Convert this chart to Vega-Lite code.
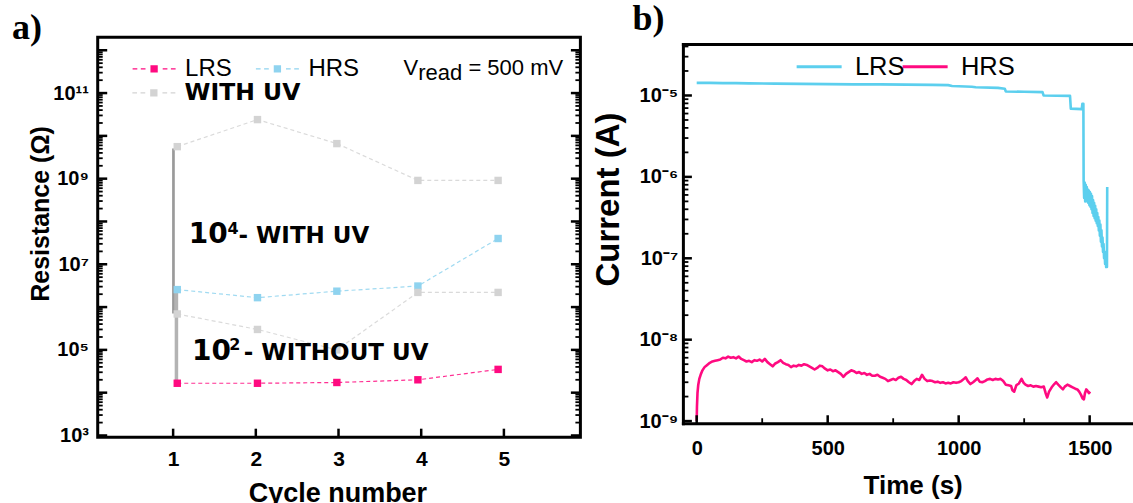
{
  "$schema": "https://vega.github.io/schema/vega-lite/v6.json",
  "padding": {"left": 11.7, "top": 1.2, "right": 0, "bottom": 0},
  "background": "white",
  "config": {
    "view": {"stroke": null},
    "axis": {"grid": false, "ticks": false, "domain": false, "labelFlush": false, "labelOverlap": false, "labelColor": "black", "titleColor": "black", "labelFont": "Liberation Sans", "titleFont": "Liberation Sans", "labelFontWeight": "bold", "titleFontWeight": "bold"}
  },
  "datasets": {
    "cycles": [
      {"cycle": 1.05, "R": 16600, "series": "LRS", "group": "LRS"},
      {"cycle": 2.02, "R": 16600, "series": "LRS", "group": "LRS"},
      {"cycle": 2.98, "R": 17300, "series": "LRS", "group": "LRS"},
      {"cycle": 3.96, "R": 20000, "series": "LRS", "group": "LRS"},
      {"cycle": 4.93, "R": 35000, "series": "LRS", "group": "LRS"},
      {"cycle": 1.05, "R": 2560000, "series": "HRS", "group": "HRS"},
      {"cycle": 2.02, "R": 1660000, "series": "HRS", "group": "HRS"},
      {"cycle": 2.98, "R": 2350000, "series": "HRS", "group": "HRS"},
      {"cycle": 3.96, "R": 3100000, "series": "HRS", "group": "HRS"},
      {"cycle": 4.93, "R": 40000000, "series": "HRS", "group": "HRS"},
      {"cycle": 1.05, "R": 5.6e9, "series": "WITH UV", "group": "UV-HRS"},
      {"cycle": 2.02, "R": 2.4e10, "series": "WITH UV", "group": "UV-HRS"},
      {"cycle": 2.98, "R": 6.6e9, "series": "WITH UV", "group": "UV-HRS"},
      {"cycle": 3.96, "R": 9.1e8, "series": "WITH UV", "group": "UV-HRS"},
      {"cycle": 4.93, "R": 9.1e8, "series": "WITH UV", "group": "UV-HRS"},
      {"cycle": 1.05, "R": 690000, "series": "WITH UV", "group": "UV-LRS"},
      {"cycle": 2.02, "R": 300000, "series": "WITH UV", "group": "UV-LRS"},
      {"cycle": 2.98, "R": 100000, "series": "WITH UV", "group": "UV-LRS"},
      {"cycle": 3.96, "R": 2200000, "series": "WITH UV", "group": "UV-LRS"},
      {"cycle": 4.93, "R": 2200000, "series": "WITH UV", "group": "UV-LRS"}
    ],
    "bars": [
      {"bar": "A", "cycle": 1.004, "top": 5.08e9, "bottom": 708000},
      {"bar": "B", "cycle": 1.04, "top": 2440000, "bottom": 16400}
    ],
    "tA_maj": [{"v": 1e3}, {"v": 1e4}, {"v": 1e5}, {"v": 1e6}, {"v": 1e7}, {"v": 1e8}, {"v": 1e9}, {"v": 1e10}, {"v": 1e11}, {"v": 1e12}],
    "tA_min": [{"v":2e3},{"v":3e3},{"v":4e3},{"v":5e3},{"v":6e3},{"v":7e3},{"v":8e3},{"v":9e3},{"v":2e4},{"v":3e4},{"v":4e4},{"v":5e4},{"v":6e4},{"v":7e4},{"v":8e4},{"v":9e4},{"v":2e5},{"v":3e5},{"v":4e5},{"v":5e5},{"v":6e5},{"v":7e5},{"v":8e5},{"v":9e5},{"v":2e6},{"v":3e6},{"v":4e6},{"v":5e6},{"v":6e6},{"v":7e6},{"v":8e6},{"v":9e6},{"v":2e7},{"v":3e7},{"v":4e7},{"v":5e7},{"v":6e7},{"v":7e7},{"v":8e7},{"v":9e7},{"v":2e8},{"v":3e8},{"v":4e8},{"v":5e8},{"v":6e8},{"v":7e8},{"v":8e8},{"v":9e8},{"v":2e9},{"v":3e9},{"v":4e9},{"v":5e9},{"v":6e9},{"v":7e9},{"v":8e9},{"v":9e9},{"v":2e10},{"v":3e10},{"v":4e10},{"v":5e10},{"v":6e10},{"v":7e10},{"v":8e10},{"v":9e10},{"v":2e11},{"v":3e11},{"v":4e11},{"v":5e11},{"v":6e11},{"v":7e11},{"v":8e11},{"v":9e11}],
    "tA_x": [{"v": 1}, {"v": 2}, {"v": 3}, {"v": 4}, {"v": 5}],
    "tB_maj": [{"v": 1e-9}, {"v": 1e-8}, {"v": 1e-7}, {"v": 1e-6}, {"v": 1e-5}],
    "tB_min": [{"v":2e-9},{"v":3e-9},{"v":4e-9},{"v":5e-9},{"v":6e-9},{"v":7e-9},{"v":8e-9},{"v":9e-9},{"v":2e-8},{"v":3e-8},{"v":4e-8},{"v":5e-8},{"v":6e-8},{"v":7e-8},{"v":8e-8},{"v":9e-8},{"v":2e-7},{"v":3e-7},{"v":4e-7},{"v":5e-7},{"v":6e-7},{"v":7e-7},{"v":8e-7},{"v":9e-7},{"v":2e-6},{"v":3e-6},{"v":4e-6},{"v":5e-6},{"v":6e-6},{"v":7e-6},{"v":8e-6},{"v":9e-6},{"v":2e-5},{"v":3e-5},{"v":4e-5}],
    "tB_x": [{"v": 0}, {"v": 500}, {"v": 1000}, {"v": 1500}],
    "tB_xm": [{"v": 250}, {"v": 750}, {"v": 1250}],
    "current": [
      {"t": 0, "I": 1.43e-5, "series": "LRS"},
      {"t": 50, "I": 1.43e-5, "series": "LRS"},
      {"t": 100, "I": 1.42e-5, "series": "LRS"},
      {"t": 150, "I": 1.42e-5, "series": "LRS"},
      {"t": 200, "I": 1.41e-5, "series": "LRS"},
      {"t": 300, "I": 1.40e-5, "series": "LRS"},
      {"t": 400, "I": 1.39e-5, "series": "LRS"},
      {"t": 500, "I": 1.38e-5, "series": "LRS"},
      {"t": 600, "I": 1.37e-5, "series": "LRS"},
      {"t": 700, "I": 1.37e-5, "series": "LRS"},
      {"t": 800, "I": 1.36e-5, "series": "LRS"},
      {"t": 900, "I": 1.35e-5, "series": "LRS"},
      {"t": 960, "I": 1.34e-5, "series": "LRS"},
      {"t": 975, "I": 1.31e-5, "series": "LRS"},
      {"t": 1050, "I": 1.28e-5, "series": "LRS"},
      {"t": 1065, "I": 1.26e-5, "series": "LRS"},
      {"t": 1150, "I": 1.24e-5, "series": "LRS"},
      {"t": 1176, "I": 1.21e-5, "series": "LRS"},
      {"t": 1180, "I": 1.12e-5, "series": "LRS"},
      {"t": 1250, "I": 1.11e-5, "series": "LRS"},
      {"t": 1320, "I": 1.10e-5, "series": "LRS"},
      {"t": 1324, "I": 1.0e-5, "series": "LRS"},
      {"t": 1425, "I": 9.9e-6, "series": "LRS"},
      {"t": 1428, "I": 6.9e-6, "series": "LRS"},
      {"t": 1470, "I": 6.8e-6, "series": "LRS"},
      {"t": 1472, "I": 7.9e-6, "series": "LRS"},
      {"t": 1476, "I": 7.9e-6, "series": "LRS"},
      {"t": 1477, "I": 9.0e-7, "series": "LRS"},
      {"t": 1479, "I": 5.5e-7, "series": "LRS"},
      {"t": 1481, "I": 8.5e-7, "series": "LRS"},
      {"t": 1483, "I": 5.0e-7, "series": "LRS"},
      {"t": 1485, "I": 8.0e-7, "series": "LRS"},
      {"t": 1487, "I": 5.5e-7, "series": "LRS"},
      {"t": 1489, "I": 7.5e-7, "series": "LRS"},
      {"t": 1491, "I": 5.0e-7, "series": "LRS"},
      {"t": 1493, "I": 7.0e-7, "series": "LRS"},
      {"t": 1495, "I": 4.8e-7, "series": "LRS"},
      {"t": 1497, "I": 6.8e-7, "series": "LRS"},
      {"t": 1499, "I": 4.5e-7, "series": "LRS"},
      {"t": 1501, "I": 6.5e-7, "series": "LRS"},
      {"t": 1503, "I": 4.3e-7, "series": "LRS"},
      {"t": 1505, "I": 6.2e-7, "series": "LRS"},
      {"t": 1507, "I": 4.0e-7, "series": "LRS"},
      {"t": 1509, "I": 5.8e-7, "series": "LRS"},
      {"t": 1511, "I": 3.6e-7, "series": "LRS"},
      {"t": 1513, "I": 5.2e-7, "series": "LRS"},
      {"t": 1515, "I": 3.3e-7, "series": "LRS"},
      {"t": 1517, "I": 4.8e-7, "series": "LRS"},
      {"t": 1519, "I": 3.1e-7, "series": "LRS"},
      {"t": 1521, "I": 4.4e-7, "series": "LRS"},
      {"t": 1523, "I": 2.9e-7, "series": "LRS"},
      {"t": 1525, "I": 4.0e-7, "series": "LRS"},
      {"t": 1527, "I": 2.7e-7, "series": "LRS"},
      {"t": 1529, "I": 3.6e-7, "series": "LRS"},
      {"t": 1531, "I": 2.5e-7, "series": "LRS"},
      {"t": 1533, "I": 3.2e-7, "series": "LRS"},
      {"t": 1535, "I": 2.2e-7, "series": "LRS"},
      {"t": 1537, "I": 2.9e-7, "series": "LRS"},
      {"t": 1539, "I": 1.9e-7, "series": "LRS"},
      {"t": 1541, "I": 2.6e-7, "series": "LRS"},
      {"t": 1543, "I": 1.6e-7, "series": "LRS"},
      {"t": 1545, "I": 2.2e-7, "series": "LRS"},
      {"t": 1547, "I": 1.4e-7, "series": "LRS"},
      {"t": 1549, "I": 1.8e-7, "series": "LRS"},
      {"t": 1551, "I": 1.2e-7, "series": "LRS"},
      {"t": 1553, "I": 1.5e-7, "series": "LRS"},
      {"t": 1555, "I": 1.0e-7, "series": "LRS"},
      {"t": 1557, "I": 1.2e-7, "series": "LRS"},
      {"t": 1559, "I": 8.5e-8, "series": "LRS"},
      {"t": 1561, "I": 1.0e-7, "series": "LRS"},
      {"t": 1563, "I": 7.8e-8, "series": "LRS"},
      {"t": 1566, "I": 7.8e-8, "series": "LRS"},
      {"t": 1567, "I": 7.5e-7, "series": "LRS"},
      {"t": 0, "I": 1.0e-9, "series": "HRS"},
      {"t": 1, "I": 1.5e-9, "series": "HRS"},
      {"t": 3, "I": 2.2e-9, "series": "HRS"},
      {"t": 6, "I": 2.8e-9, "series": "HRS"},
      {"t": 10, "I": 3.3e-9, "series": "HRS"},
      {"t": 15, "I": 3.7e-9, "series": "HRS"},
      {"t": 22, "I": 4.2e-9, "series": "HRS"},
      {"t": 30, "I": 4.6e-9, "series": "HRS"},
      {"t": 40, "I": 4.9e-9, "series": "HRS"},
      {"t": 50, "I": 5.2e-9, "series": "HRS"},
      {"t": 60, "I": 5.4e-9, "series": "HRS"},
      {"t": 70, "I": 5.5e-9, "series": "HRS"},
      {"t": 80, "I": 5.6e-9, "series": "HRS"},
      {"t": 90, "I": 5.7e-9, "series": "HRS"},
      {"t": 100, "I": 6.0e-9, "series": "HRS"},
      {"t": 110, "I": 5.9e-9, "series": "HRS"},
      {"t": 120, "I": 6.2e-9, "series": "HRS"},
      {"t": 130, "I": 6.0e-9, "series": "HRS"},
      {"t": 140, "I": 6.1e-9, "series": "HRS"},
      {"t": 150, "I": 5.9e-9, "series": "HRS"},
      {"t": 160, "I": 6.2e-9, "series": "HRS"},
      {"t": 170, "I": 5.8e-9, "series": "HRS"},
      {"t": 180, "I": 5.6e-9, "series": "HRS"},
      {"t": 190, "I": 5.4e-9, "series": "HRS"},
      {"t": 200, "I": 5.5e-9, "series": "HRS"},
      {"t": 210, "I": 5.3e-9, "series": "HRS"},
      {"t": 220, "I": 5.6e-9, "series": "HRS"},
      {"t": 230, "I": 5.5e-9, "series": "HRS"},
      {"t": 240, "I": 5.7e-9, "series": "HRS"},
      {"t": 250, "I": 5.4e-9, "series": "HRS"},
      {"t": 260, "I": 5.8e-9, "series": "HRS"},
      {"t": 270, "I": 5.3e-9, "series": "HRS"},
      {"t": 280, "I": 5.0e-9, "series": "HRS"},
      {"t": 290, "I": 4.7e-9, "series": "HRS"},
      {"t": 300, "I": 5.1e-9, "series": "HRS"},
      {"t": 310, "I": 5.3e-9, "series": "HRS"},
      {"t": 320, "I": 5.6e-9, "series": "HRS"},
      {"t": 330, "I": 5.2e-9, "series": "HRS"},
      {"t": 340, "I": 5.0e-9, "series": "HRS"},
      {"t": 350, "I": 4.9e-9, "series": "HRS"},
      {"t": 360, "I": 4.6e-9, "series": "HRS"},
      {"t": 370, "I": 4.8e-9, "series": "HRS"},
      {"t": 380, "I": 4.7e-9, "series": "HRS"},
      {"t": 390, "I": 4.9e-9, "series": "HRS"},
      {"t": 400, "I": 4.8e-9, "series": "HRS"},
      {"t": 410, "I": 5.0e-9, "series": "HRS"},
      {"t": 420, "I": 4.9e-9, "series": "HRS"},
      {"t": 430, "I": 4.7e-9, "series": "HRS"},
      {"t": 440, "I": 4.5e-9, "series": "HRS"},
      {"t": 450, "I": 4.3e-9, "series": "HRS"},
      {"t": 460, "I": 4.5e-9, "series": "HRS"},
      {"t": 470, "I": 4.8e-9, "series": "HRS"},
      {"t": 480, "I": 4.7e-9, "series": "HRS"},
      {"t": 490, "I": 4.4e-9, "series": "HRS"},
      {"t": 500, "I": 4.2e-9, "series": "HRS"},
      {"t": 510, "I": 4.3e-9, "series": "HRS"},
      {"t": 520, "I": 4.1e-9, "series": "HRS"},
      {"t": 530, "I": 4.2e-9, "series": "HRS"},
      {"t": 540, "I": 4.0e-9, "series": "HRS"},
      {"t": 550, "I": 3.8e-9, "series": "HRS"},
      {"t": 560, "I": 3.5e-9, "series": "HRS"},
      {"t": 570, "I": 3.8e-9, "series": "HRS"},
      {"t": 580, "I": 4.0e-9, "series": "HRS"},
      {"t": 590, "I": 4.2e-9, "series": "HRS"},
      {"t": 600, "I": 4.1e-9, "series": "HRS"},
      {"t": 610, "I": 3.9e-9, "series": "HRS"},
      {"t": 620, "I": 4.0e-9, "series": "HRS"},
      {"t": 630, "I": 3.8e-9, "series": "HRS"},
      {"t": 640, "I": 3.9e-9, "series": "HRS"},
      {"t": 650, "I": 3.7e-9, "series": "HRS"},
      {"t": 660, "I": 3.8e-9, "series": "HRS"},
      {"t": 670, "I": 3.6e-9, "series": "HRS"},
      {"t": 680, "I": 3.6e-9, "series": "HRS"},
      {"t": 690, "I": 3.7e-9, "series": "HRS"},
      {"t": 700, "I": 3.5e-9, "series": "HRS"},
      {"t": 710, "I": 3.4e-9, "series": "HRS"},
      {"t": 720, "I": 3.3e-9, "series": "HRS"},
      {"t": 730, "I": 3.1e-9, "series": "HRS"},
      {"t": 740, "I": 3.2e-9, "series": "HRS"},
      {"t": 750, "I": 3.3e-9, "series": "HRS"},
      {"t": 760, "I": 3.2e-9, "series": "HRS"},
      {"t": 770, "I": 3.4e-9, "series": "HRS"},
      {"t": 780, "I": 3.5e-9, "series": "HRS"},
      {"t": 790, "I": 3.3e-9, "series": "HRS"},
      {"t": 800, "I": 3.2e-9, "series": "HRS"},
      {"t": 810, "I": 3.0e-9, "series": "HRS"},
      {"t": 820, "I": 2.85e-9, "series": "HRS"},
      {"t": 830, "I": 3.1e-9, "series": "HRS"},
      {"t": 840, "I": 3.3e-9, "series": "HRS"},
      {"t": 850, "I": 3.2e-9, "series": "HRS"},
      {"t": 860, "I": 3.7e-9, "series": "HRS"},
      {"t": 870, "I": 3.3e-9, "series": "HRS"},
      {"t": 880, "I": 3.1e-9, "series": "HRS"},
      {"t": 890, "I": 3.15e-9, "series": "HRS"},
      {"t": 900, "I": 3.1e-9, "series": "HRS"},
      {"t": 910, "I": 3.0e-9, "series": "HRS"},
      {"t": 920, "I": 3.05e-9, "series": "HRS"},
      {"t": 930, "I": 2.95e-9, "series": "HRS"},
      {"t": 940, "I": 3.0e-9, "series": "HRS"},
      {"t": 950, "I": 2.9e-9, "series": "HRS"},
      {"t": 960, "I": 2.95e-9, "series": "HRS"},
      {"t": 970, "I": 2.9e-9, "series": "HRS"},
      {"t": 980, "I": 3.0e-9, "series": "HRS"},
      {"t": 990, "I": 2.95e-9, "series": "HRS"},
      {"t": 1000, "I": 3.0e-9, "series": "HRS"},
      {"t": 1010, "I": 3.1e-9, "series": "HRS"},
      {"t": 1020, "I": 3.3e-9, "series": "HRS"},
      {"t": 1027, "I": 3.45e-9, "series": "HRS"},
      {"t": 1035, "I": 3.1e-9, "series": "HRS"},
      {"t": 1045, "I": 2.85e-9, "series": "HRS"},
      {"t": 1055, "I": 3.0e-9, "series": "HRS"},
      {"t": 1065, "I": 3.2e-9, "series": "HRS"},
      {"t": 1072, "I": 3.35e-9, "series": "HRS"},
      {"t": 1080, "I": 3.05e-9, "series": "HRS"},
      {"t": 1090, "I": 3.0e-9, "series": "HRS"},
      {"t": 1100, "I": 3.1e-9, "series": "HRS"},
      {"t": 1110, "I": 3.25e-9, "series": "HRS"},
      {"t": 1120, "I": 3.3e-9, "series": "HRS"},
      {"t": 1130, "I": 3.2e-9, "series": "HRS"},
      {"t": 1140, "I": 3.3e-9, "series": "HRS"},
      {"t": 1150, "I": 3.25e-9, "series": "HRS"},
      {"t": 1160, "I": 3.3e-9, "series": "HRS"},
      {"t": 1170, "I": 3.1e-9, "series": "HRS"},
      {"t": 1180, "I": 2.8e-9, "series": "HRS"},
      {"t": 1190, "I": 2.75e-9, "series": "HRS"},
      {"t": 1200, "I": 2.7e-9, "series": "HRS"},
      {"t": 1205, "I": 2.4e-9, "series": "HRS"},
      {"t": 1212, "I": 2.3e-9, "series": "HRS"},
      {"t": 1220, "I": 2.75e-9, "series": "HRS"},
      {"t": 1230, "I": 2.9e-9, "series": "HRS"},
      {"t": 1240, "I": 3.3e-9, "series": "HRS"},
      {"t": 1248, "I": 2.95e-9, "series": "HRS"},
      {"t": 1255, "I": 2.8e-9, "series": "HRS"},
      {"t": 1265, "I": 2.7e-9, "series": "HRS"},
      {"t": 1275, "I": 2.75e-9, "series": "HRS"},
      {"t": 1285, "I": 2.65e-9, "series": "HRS"},
      {"t": 1295, "I": 2.7e-9, "series": "HRS"},
      {"t": 1305, "I": 2.65e-9, "series": "HRS"},
      {"t": 1315, "I": 2.6e-9, "series": "HRS"},
      {"t": 1325, "I": 2.65e-9, "series": "HRS"},
      {"t": 1332, "I": 2.2e-9, "series": "HRS"},
      {"t": 1338, "I": 1.95e-9, "series": "HRS"},
      {"t": 1345, "I": 2.3e-9, "series": "HRS"},
      {"t": 1355, "I": 2.6e-9, "series": "HRS"},
      {"t": 1365, "I": 2.85e-9, "series": "HRS"},
      {"t": 1372, "I": 3.0e-9, "series": "HRS"},
      {"t": 1380, "I": 2.8e-9, "series": "HRS"},
      {"t": 1390, "I": 2.6e-9, "series": "HRS"},
      {"t": 1398, "I": 2.45e-9, "series": "HRS"},
      {"t": 1405, "I": 2.65e-9, "series": "HRS"},
      {"t": 1415, "I": 2.8e-9, "series": "HRS"},
      {"t": 1425, "I": 2.7e-9, "series": "HRS"},
      {"t": 1435, "I": 2.6e-9, "series": "HRS"},
      {"t": 1445, "I": 2.5e-9, "series": "HRS"},
      {"t": 1453, "I": 2.45e-9, "series": "HRS"},
      {"t": 1460, "I": 2.3e-9, "series": "HRS"},
      {"t": 1467, "I": 2.1e-9, "series": "HRS"},
      {"t": 1473, "I": 1.9e-9, "series": "HRS"},
      {"t": 1478, "I": 1.85e-9, "series": "HRS"},
      {"t": 1482, "I": 2.2e-9, "series": "HRS"},
      {"t": 1487, "I": 2.45e-9, "series": "HRS"},
      {"t": 1492, "I": 2.35e-9, "series": "HRS"},
      {"t": 1497, "I": 2.2e-9, "series": "HRS"},
      {"t": 1502, "I": 2.3e-9, "series": "HRS"}
    ]
  },
  "bounds": "flush",
  "spacing": 102.7,
  "resolve": {"scale": {"color": "independent", "x": "independent", "y": "independent"}, "legend": {"color": "independent"}},
  "hconcat": [
    {
      "width": 482.7,
      "height": 400,
      "view": {"stroke": null},
      "resolve": {"axis": {"x": "independent", "y": "independent"}, "legend": {"color": "independent", "fill": "independent"}},
      "layer": [
        {
          "data": {"name": "bars"},
          "transform": [{"filter": "datum.bar == 'A'"}],
          "mark": {"type": "rule", "color": "#9a9a9a", "strokeWidth": 2.7},
          "encoding": {
            "x": {"field": "cycle", "type": "quantitative", "scale": {"domain": [0.088, 5.925], "nice": false, "zero": false},
              "axis": {"orient": "bottom", "values": [1, 2, 3, 4, 5], "format": "d", "labelFontSize": 21, "labelPadding": 11.3, "title": "Cycle number", "titleFontSize": 27, "titleX": 239.7, "titleY": 64.3, "titleBaseline": "alphabetic", "titleAlign": "center"}},
            "y": {"field": "top", "type": "quantitative", "scale": {"type": "log", "domain": [912, 2.02e12], "nice": false},
              "axis": {"orient": "left", "values": [1e3, 1e5, 1e7, 1e9, 1e11], "labelExpr": "['','','','10³','','10⁵','','10⁷','','10⁹','','10¹¹',''][round(log(datum.value)/LN10)]", "labelFontSize": 20, "labelPadding": 9.3, "title": "Resistance (Ω)", "titleFontSize": 25, "titleX": -57.3, "titleY": 176.3, "titleBaseline": "middle", "titleAlign": "center"}},
            "y2": {"field": "bottom"}
          }
        },
        {
          "data": {"name": "bars"},
          "transform": [{"filter": "datum.bar == 'B'"}],
          "mark": {"type": "rule", "color": "#ababab", "strokeWidth": 3.5, "opacity": 0.9},
          "encoding": {
            "x": {"field": "cycle", "type": "quantitative", "scale": {"domain": [0.088, 5.925], "nice": false, "zero": false}, "axis": null},
            "y": {"field": "top", "type": "quantitative", "scale": {"type": "log", "domain": [912, 2.02e12], "nice": false}, "axis": null},
            "y2": {"field": "bottom"}
          }
        },
        {
          "data": {"values": [{}]},
          "mark": {"type": "rect", "fillOpacity": 0, "stroke": "black", "strokeWidth": 3},
          "encoding": {
            "x": {"datum": 0.088, "type": "quantitative", "scale": {"domain": [0.088, 5.925], "nice": false, "zero": false}, "axis": null},
            "x2": {"datum": 5.925},
            "y": {"datum": 912, "type": "quantitative", "scale": {"type": "log", "domain": [912, 2.02e12], "nice": false}, "axis": null},
            "y2": {"datum": 2.02e12}
          }
        },
        {
          "data": {"name": "tA_maj"},
          "mark": {"type": "tick", "orient": "horizontal", "size": 9.5, "thickness": 2.5, "color": "black", "opacity": 1, "xOffset": 4.75},
          "encoding": {
            "x": {"datum": 0.088, "type": "quantitative", "scale": {"domain": [0.088, 5.925], "nice": false, "zero": false}, "axis": null},
            "y": {"field": "v", "type": "quantitative", "scale": {"type": "log", "domain": [912, 2.02e12], "nice": false}, "axis": null}
          }
        },
        {
          "data": {"name": "tA_min"},
          "mark": {"type": "tick", "orient": "horizontal", "size": 5, "thickness": 1.8, "color": "black", "opacity": 1, "xOffset": 2.5},
          "encoding": {
            "x": {"datum": 0.088, "type": "quantitative", "scale": {"domain": [0.088, 5.925], "nice": false, "zero": false}, "axis": null},
            "y": {"field": "v", "type": "quantitative", "scale": {"type": "log", "domain": [912, 2.02e12], "nice": false}, "axis": null}
          }
        },
        {
          "data": {"name": "tA_maj"},
          "mark": {"type": "tick", "orient": "horizontal", "size": 9.5, "thickness": 2.5, "color": "black", "opacity": 1, "xOffset": -4.75},
          "encoding": {
            "x": {"datum": 5.925, "type": "quantitative", "scale": {"domain": [0.088, 5.925], "nice": false, "zero": false}, "axis": null},
            "y": {"field": "v", "type": "quantitative", "scale": {"type": "log", "domain": [912, 2.02e12], "nice": false}, "axis": null}
          }
        },
        {
          "data": {"name": "tA_min"},
          "mark": {"type": "tick", "orient": "horizontal", "size": 5, "thickness": 1.8, "color": "black", "opacity": 1, "xOffset": -2.5},
          "encoding": {
            "x": {"datum": 5.925, "type": "quantitative", "scale": {"domain": [0.088, 5.925], "nice": false, "zero": false}, "axis": null},
            "y": {"field": "v", "type": "quantitative", "scale": {"type": "log", "domain": [912, 2.02e12], "nice": false}, "axis": null}
          }
        },
        {
          "data": {"name": "tA_x"},
          "mark": {"type": "tick", "orient": "vertical", "size": 8.5, "thickness": 2.5, "color": "black", "opacity": 1, "yOffset": -4.25},
          "encoding": {
            "x": {"field": "v", "type": "quantitative", "scale": {"domain": [0.088, 5.925], "nice": false, "zero": false}, "axis": null},
            "y": {"datum": 912, "type": "quantitative", "scale": {"type": "log", "domain": [912, 2.02e12], "nice": false}, "axis": null}
          }
        },
        {
          "data": {"name": "cycles"},
          "mark": {"type": "line", "strokeDash": [4, 3], "strokeWidth": 1.2, "opacity": 0.85},
          "encoding": {
            "x": {"field": "cycle", "type": "quantitative", "scale": {"domain": [0.088, 5.925], "nice": false, "zero": false}, "axis": null},
            "y": {"field": "R", "type": "quantitative", "scale": {"type": "log", "domain": [912, 2.02e12], "nice": false}, "axis": null},
            "color": {"field": "series", "type": "nominal", "scale": {"domain": ["LRS", "HRS", "WITH UV"], "range": ["#ff0a80", "#8fd3ef", "#d3d3d3"]}, "legend": null},
            "detail": {"field": "group"}
          }
        },
        {
          "data": {"name": "cycles"},
          "transform": [{"filter": "datum.series != 'WITH UV'"}],
          "mark": {"type": "point", "shape": "square", "filled": true, "size": 55, "opacity": 1},
          "encoding": {
            "x": {"field": "cycle", "type": "quantitative", "scale": {"domain": [0.088, 5.925], "nice": false, "zero": false}, "axis": null},
            "y": {"field": "R", "type": "quantitative", "scale": {"type": "log", "domain": [912, 2.02e12], "nice": false}, "axis": null},
            "color": {"field": "series", "type": "nominal", "scale": {"domain": ["LRS", "HRS", "WITH UV"], "range": ["#ff0a80", "#8fd3ef", "#d3d3d3"]},
              "legend": {"values": ["LRS", "HRS"], "orient": "none", "legendX": 44.4, "legendY": 19.6, "direction": "horizontal", "title": null, "padding": 0,
                "symbolType": "M-5.375,-0.1625H-4.2V0.1625H-5.375Z M-3.325,-0.1625H-2.15V0.1625H-3.325Z M-0.9125,-0.9125H0.9125V0.9125H-0.9125Z M2.15,-0.1625H3.325V0.1625H2.15Z M4.2,-0.1625H5.375V0.1625H4.2Z",
                "symbolSize": 64, "symbolStrokeWidth": 0, "symbolOpacity": 1, "labelFont": "Liberation Sans", "labelFontSize": 24, "labelFontWeight": "normal", "labelColor": "black", "labelOffset": 19, "columnPadding": 23.3}}
          }
        },
        {
          "data": {"name": "cycles"},
          "transform": [{"filter": "datum.series == 'WITH UV'"}],
          "mark": {"type": "point", "shape": "square", "filled": true, "size": 55, "opacity": 1},
          "encoding": {
            "x": {"field": "cycle", "type": "quantitative", "scale": {"domain": [0.088, 5.925], "nice": false, "zero": false}, "axis": null},
            "y": {"field": "R", "type": "quantitative", "scale": {"type": "log", "domain": [912, 2.02e12], "nice": false}, "axis": null},
            "fill": {"field": "series", "type": "nominal", "scale": {"domain": ["WITH UV"], "range": ["#d3d3d3"]},
              "legend": {"orient": "none", "legendX": 44.4, "legendY": 44, "direction": "horizontal", "title": null, "padding": 0,
                "symbolType": "M-5.375,-0.1625H-4.2V0.1625H-5.375Z M-3.325,-0.1625H-2.15V0.1625H-3.325Z M-0.9125,-0.9125H0.9125V0.9125H-0.9125Z M2.15,-0.1625H3.325V0.1625H2.15Z M4.2,-0.1625H5.375V0.1625H4.2Z",
                "symbolSize": 64, "symbolStrokeWidth": 0, "symbolOpacity": 1, "labelFont": "DejaVu Sans", "labelFontSize": 23.5, "labelFontWeight": "bold", "labelColor": "black", "labelOffset": 19}}
          }
        },
        {
          "data": {"values": [{}]},
          "mark": {"type": "text", "text": "a)", "font": "Liberation Serif", "fontWeight": "bold", "fontSize": 36, "align": "left", "baseline": "alphabetic", "color": "black"},
          "encoding": {
            "x": {"datum": -0.947, "type": "quantitative", "scale": {"domain": [0.088, 5.925], "nice": false, "zero": false}, "axis": null},
            "y": {"datum": 1.86e12, "type": "quantitative", "scale": {"type": "log", "domain": [912, 2.02e12], "nice": false}, "axis": null}
          }
        },
        {
          "data": {"values": [{}]},
          "mark": {"type": "text", "text": "V", "font": "Liberation Sans", "fontSize": 22, "align": "left", "baseline": "alphabetic", "color": "black"},
          "encoding": {
            "x": {"datum": 3.785, "type": "quantitative", "scale": {"domain": [0.088, 5.925], "nice": false, "zero": false}, "axis": null},
            "y": {"datum": 2.58e11, "type": "quantitative", "scale": {"type": "log", "domain": [912, 2.02e12], "nice": false}, "axis": null}
          }
        },
        {
          "data": {"values": [{}]},
          "mark": {"type": "text", "text": "read", "font": "Liberation Sans", "fontSize": 22, "align": "left", "baseline": "alphabetic", "color": "black"},
          "encoding": {
            "x": {"datum": 3.963, "type": "quantitative", "scale": {"domain": [0.088, 5.925], "nice": false, "zero": false}, "axis": null},
            "y": {"datum": 1.97e11, "type": "quantitative", "scale": {"type": "log", "domain": [912, 2.02e12], "nice": false}, "axis": null}
          }
        },
        {
          "data": {"values": [{}]},
          "mark": {"type": "text", "text": "= 500 mV", "font": "Liberation Sans", "fontSize": 22, "align": "left", "baseline": "alphabetic", "color": "black"},
          "encoding": {
            "x": {"datum": 4.571, "type": "quantitative", "scale": {"domain": [0.088, 5.925], "nice": false, "zero": false}, "axis": null},
            "y": {"datum": 2.58e11, "type": "quantitative", "scale": {"type": "log", "domain": [912, 2.02e12], "nice": false}, "axis": null}
          }
        },
        {
          "data": {"values": [{}]},
          "mark": {"type": "text", "text": "10", "font": "DejaVu Sans", "fontWeight": "bold", "fontSize": 28, "align": "left", "baseline": "alphabetic", "color": "black"},
          "encoding": {
            "x": {"datum": 1.1886, "type": "quantitative", "scale": {"domain": [0.088, 5.925], "nice": false, "zero": false}, "axis": null},
            "y": {"datum": 3.11e7, "type": "quantitative", "scale": {"type": "log", "domain": [912, 2.02e12], "nice": false}, "axis": null}
          }
        },
        {
          "data": {"values": [{}]},
          "mark": {"type": "text", "text": "4", "font": "DejaVu Sans", "fontWeight": "bold", "fontSize": 16, "align": "left", "baseline": "alphabetic", "color": "black"},
          "encoding": {
            "x": {"datum": 1.657, "type": "quantitative", "scale": {"domain": [0.088, 5.925], "nice": false, "zero": false}, "axis": null},
            "y": {"datum": 5.16e7, "type": "quantitative", "scale": {"type": "log", "domain": [912, 2.02e12], "nice": false}, "axis": null}
          }
        },
        {
          "data": {"values": [{}]},
          "mark": {"type": "text", "text": "- WITH UV", "font": "DejaVu Sans", "fontWeight": "bold", "fontSize": 23, "align": "left", "baseline": "alphabetic", "color": "black"},
          "encoding": {
            "x": {"datum": 1.79, "type": "quantitative", "scale": {"domain": [0.088, 5.925], "nice": false, "zero": false}, "axis": null},
            "y": {"datum": 3.11e7, "type": "quantitative", "scale": {"type": "log", "domain": [912, 2.02e12], "nice": false}, "axis": null}
          }
        },
        {
          "data": {"values": [{}]},
          "mark": {"type": "text", "text": "10", "font": "DejaVu Sans", "fontWeight": "bold", "fontSize": 28, "align": "left", "baseline": "alphabetic", "color": "black"},
          "encoding": {
            "x": {"datum": 1.2297, "type": "quantitative", "scale": {"domain": [0.088, 5.925], "nice": false, "zero": false}, "axis": null},
            "y": {"datum": 58700, "type": "quantitative", "scale": {"type": "log", "domain": [912, 2.02e12], "nice": false}, "axis": null}
          }
        },
        {
          "data": {"values": [{}]},
          "mark": {"type": "text", "text": "2", "font": "DejaVu Sans", "fontWeight": "bold", "fontSize": 16, "align": "left", "baseline": "alphabetic", "color": "black"},
          "encoding": {
            "x": {"datum": 1.68, "type": "quantitative", "scale": {"domain": [0.088, 5.925], "nice": false, "zero": false}, "axis": null},
            "y": {"datum": 96800, "type": "quantitative", "scale": {"type": "log", "domain": [912, 2.02e12], "nice": false}, "axis": null}
          }
        },
        {
          "data": {"values": [{}]},
          "mark": {"type": "text", "text": "- WITHOUT UV", "font": "DejaVu Sans", "fontWeight": "bold", "fontSize": 23, "align": "left", "baseline": "alphabetic", "color": "black"},
          "encoding": {
            "x": {"datum": 1.854, "type": "quantitative", "scale": {"domain": [0.088, 5.925], "nice": false, "zero": false}, "axis": null},
            "y": {"datum": 58700, "type": "quantitative", "scale": {"type": "log", "domain": [912, 2.02e12], "nice": false}, "axis": null}
          }
        }
      ]
    },
    {
      "width": 450.3,
      "height": 400,
      "view": {"stroke": null},
      "resolve": {"axis": {"x": "independent", "y": "independent"}},
      "layer": [
        {
          "data": {"name": "current"},
          "mark": {"type": "line", "strokeWidth": 2.6, "strokeJoin": "round"},
          "encoding": {
            "x": {"field": "t", "type": "quantitative", "scale": {"domain": [-50.8, 1668], "nice": false, "zero": false},
              "axis": {"orient": "bottom", "offset": -13.4, "values": [0, 500, 1000, 1500], "format": "d", "labelFontSize": 20, "labelPadding": 14.7, "title": "Time (s)", "titleFontSize": 26, "titleX": 229.3, "titleY": 69.4, "titleBaseline": "alphabetic", "titleAlign": "center"}},
            "y": {"field": "I", "type": "quantitative", "scale": {"type": "log", "domain": [6.34e-10, 5.2e-5], "nice": false},
              "axis": {"orient": "left", "values": [1e-9, 1e-8, 1e-7, 1e-6, 1e-5], "labelExpr": "['10⁻⁹','10⁻⁸','10⁻⁷','10⁻⁶','10⁻⁵'][round(log(datum.value)/LN10)+9]", "labelFontSize": 20, "labelPadding": 5.7, "title": "Current (A)", "titleFontSize": 33, "titleX": -75.2, "titleY": 161.8, "titleBaseline": "middle", "titleAlign": "center"}},
            "color": {"field": "series", "type": "nominal", "scale": {"domain": ["LRS", "HRS"], "range": ["#5ccfee", "#ff0a80"]},
              "legend": {"orient": "none", "legendX": 123, "legendY": 16.5, "direction": "horizontal", "title": null, "padding": 0, "symbolType": "M-11.25,0H11.25", "symbolSize": 16, "symbolStrokeWidth": 3, "labelFont": "Liberation Sans", "labelFontSize": 25.5, "labelFontWeight": "normal", "labelColor": "black", "labelOffset": 23, "columnPadding": -9}},
            "detail": {"field": "series"}
          }
        },
        {
          "data": {"values": [{}]},
          "mark": {"type": "rect", "color": "black", "opacity": 1},
          "encoding": {
            "x": {"datum": -56.5, "type": "quantitative", "scale": {"domain": [-50.8, 1668], "nice": false, "zero": false}, "axis": null},
            "x2": {"datum": -45.1},
            "y": {"datum": 8.89e-10, "type": "quantitative", "scale": {"type": "log", "domain": [6.34e-10, 5.2e-5], "nice": false}, "axis": null},
            "y2": {"datum": 4.42e-5}
          }
        },
        {
          "data": {"values": [{}]},
          "mark": {"type": "rect", "color": "black", "opacity": 1},
          "encoding": {
            "x": {"datum": -56.5, "type": "quantitative", "scale": {"domain": [-50.8, 1668], "nice": false, "zero": false}, "axis": null},
            "x2": {"datum": 1668},
            "y": {"datum": 4.06e-5, "type": "quantitative", "scale": {"type": "log", "domain": [6.34e-10, 5.2e-5], "nice": false}, "axis": null},
            "y2": {"datum": 4.42e-5}
          }
        },
        {
          "data": {"values": [{}]},
          "mark": {"type": "rect", "color": "black", "opacity": 1},
          "encoding": {
            "x": {"datum": -56.5, "type": "quantitative", "scale": {"domain": [-50.8, 1668], "nice": false, "zero": false}, "axis": null},
            "x2": {"datum": 1668},
            "y": {"datum": 8.89e-10, "type": "quantitative", "scale": {"type": "log", "domain": [6.34e-10, 5.2e-5], "nice": false}, "axis": null},
            "y2": {"datum": 9.66e-10}
          }
        },
        {
          "data": {"name": "tB_maj"},
          "mark": {"type": "tick", "orient": "horizontal", "size": 8.5, "thickness": 2.5, "color": "black", "opacity": 1, "xOffset": 4.25},
          "encoding": {
            "x": {"datum": -50.8, "type": "quantitative", "scale": {"domain": [-50.8, 1668], "nice": false, "zero": false}, "axis": null},
            "y": {"field": "v", "type": "quantitative", "scale": {"type": "log", "domain": [6.34e-10, 5.2e-5], "nice": false}, "axis": null}
          }
        },
        {
          "data": {"name": "tB_min"},
          "mark": {"type": "tick", "orient": "horizontal", "size": 5, "thickness": 1.8, "color": "black", "opacity": 1, "xOffset": 2.5},
          "encoding": {
            "x": {"datum": -50.8, "type": "quantitative", "scale": {"domain": [-50.8, 1668], "nice": false, "zero": false}, "axis": null},
            "y": {"field": "v", "type": "quantitative", "scale": {"type": "log", "domain": [6.34e-10, 5.2e-5], "nice": false}, "axis": null}
          }
        },
        {
          "data": {"name": "tB_x"},
          "mark": {"type": "tick", "orient": "vertical", "size": 8.5, "thickness": 2.5, "color": "black", "opacity": 1, "yOffset": -4.25},
          "encoding": {
            "x": {"field": "v", "type": "quantitative", "scale": {"domain": [-50.8, 1668], "nice": false, "zero": false}, "axis": null},
            "y": {"datum": 9.27e-10, "type": "quantitative", "scale": {"type": "log", "domain": [6.34e-10, 5.2e-5], "nice": false}, "axis": null}
          }
        },
        {
          "data": {"name": "tB_xm"},
          "mark": {"type": "tick", "orient": "vertical", "size": 5.5, "thickness": 1.8, "color": "black", "opacity": 1, "yOffset": -2.75},
          "encoding": {
            "x": {"field": "v", "type": "quantitative", "scale": {"domain": [-50.8, 1668], "nice": false, "zero": false}, "axis": null},
            "y": {"datum": 9.27e-10, "type": "quantitative", "scale": {"type": "log", "domain": [6.34e-10, 5.2e-5], "nice": false}, "axis": null}
          }
        },
        {
          "data": {"values": [{}]},
          "mark": {"type": "text", "text": "b)", "font": "Liberation Serif", "fontWeight": "bold", "fontSize": 36, "align": "left", "baseline": "alphabetic", "color": "black"},
          "encoding": {
            "x": {"datum": -245.4, "type": "quantitative", "scale": {"domain": [-50.8, 1668], "nice": false, "zero": false}, "axis": null},
            "y": {"datum": 6.29e-5, "type": "quantitative", "scale": {"type": "log", "domain": [6.34e-10, 5.2e-5], "nice": false}, "axis": null}
          }
        }
      ]
    }
  ]
}
